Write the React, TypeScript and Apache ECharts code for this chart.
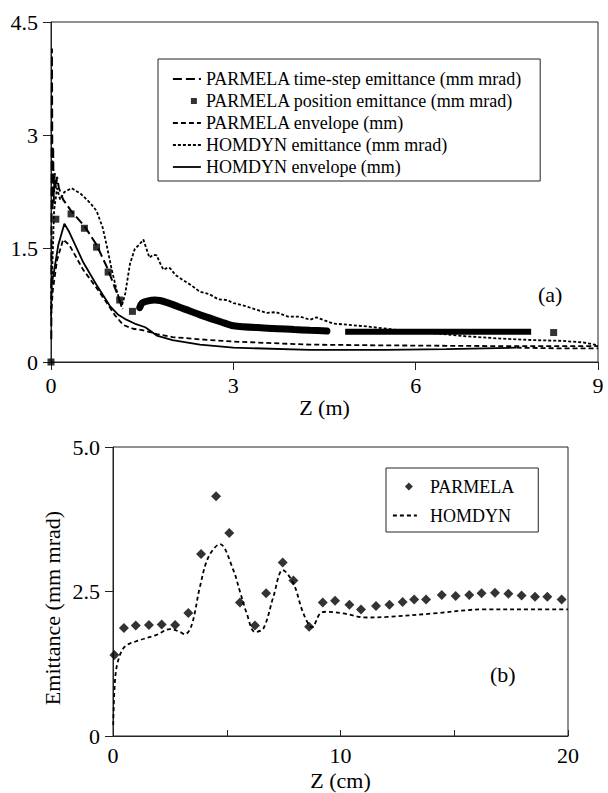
import React, { useEffect, useRef } from 'react';
import * as echarts from 'echarts';

// ---------- Top chart (a) data: Z (m) vs value ----------
const topYTickLabels = ['0', '1.5', '3', '4.5'];
const topXTickLabels = ['0', '3', '6', '9'];

const parmelaTimeStep: [number, number][] = [
  [0.005, 0.3], [0.015, 4.15], [0.025, 2.0], [0.035, 2.85], [0.045, 2.1], [0.06, 2.5],
  [0.08, 2.3], [0.1, 2.45], [0.13, 2.3], [0.2, 2.15], [0.33, 2.0], [0.55, 1.8],
  [0.75, 1.55], [0.94, 1.22], [1.1, 0.88], [1.18, 0.7],
];

const parmelaPositionPts: [number, number][] = [
  [0, 0], [0.08, 1.89], [0.33, 1.96], [0.55, 1.77], [0.75, 1.52], [0.94, 1.19],
  [1.13, 0.82], [1.34, 0.67], [8.27, 0.39],
];
const parmelaPositionDense1: [number, number][] = [
  [1.46, 0.72], [1.5, 0.78], [1.6, 0.81], [1.71, 0.82], [1.9, 0.79], [2.2, 0.7],
  [2.5, 0.61], [2.8, 0.53], [3.0, 0.48], [3.5, 0.45], [4.0, 0.43], [4.26, 0.42], [4.54, 0.41],
];
const parmelaPositionDense2: [number, number][] = [
  [4.84, 0.4], [6.0, 0.4], [7.9, 0.4],
];

const parmelaEnvelope: [number, number][] = [
  [0, 0.6], [0.03, 0.95], [0.1, 1.35], [0.2, 1.62], [0.3, 1.55], [0.53, 1.22],
  [0.75, 0.98], [0.92, 0.78], [1.05, 0.62], [1.19, 0.49], [1.35, 0.44], [1.52, 0.42],
  [1.74, 0.37], [2.0, 0.33], [2.45, 0.3], [3.0, 0.27], [4.26, 0.23], [5.5, 0.22],
  [7.4, 0.21], [9, 0.21],
];
const parmelaEnvelopeTail: [number, number][] = [
  [7.66, 0.19], [8.4, 0.18], [9, 0.18],
];

const homdynEmittance: [number, number][] = [
  [0, 0.7], [0.02, 1.2], [0.05, 2.0], [0.1, 2.3], [0.15, 2.15], [0.22, 2.25], [0.34, 2.3],
  [0.5, 2.22], [0.65, 2.1], [0.75, 2.0], [0.85, 1.78], [0.92, 1.53], [1.0, 1.22],
  [1.08, 0.95], [1.16, 0.73], [1.22, 0.9], [1.3, 1.3], [1.38, 1.5], [1.45, 1.55],
  [1.52, 1.62], [1.57, 1.5], [1.62, 1.38], [1.68, 1.42], [1.74, 1.41], [1.8, 1.3],
  [1.85, 1.22], [1.92, 1.25], [1.96, 1.24], [2.05, 1.15], [2.18, 1.08], [2.3, 1.02],
  [2.45, 0.93], [2.6, 0.9], [2.75, 0.83], [2.9, 0.82], [3.0, 0.78], [3.2, 0.74],
  [3.35, 0.7], [3.55, 0.65], [3.7, 0.66], [3.9, 0.6], [4.1, 0.6], [4.26, 0.56],
  [4.37, 0.59], [4.5, 0.55], [4.64, 0.51], [5.2, 0.47], [5.74, 0.42], [6.3, 0.38],
  [6.84, 0.34], [7.4, 0.31], [7.93, 0.29], [8.4, 0.28], [8.75, 0.26], [9, 0.22],
];

const homdynEnvelope: [number, number][] = [
  [0, 0.98], [0.05, 1.2], [0.12, 1.55], [0.22, 1.83], [0.3, 1.72], [0.53, 1.32],
  [0.75, 1.02], [0.97, 0.74], [1.1, 0.63], [1.24, 0.56], [1.4, 0.5], [1.55, 0.46],
  [1.62, 0.42], [1.74, 0.35], [2.0, 0.29], [2.45, 0.23], [3.0, 0.19], [4.26, 0.16],
  [5.5, 0.16], [6.5, 0.17], [7.66, 0.19],
];

// ---------- Bottom chart (b) data: Z (cm) vs emittance ----------
const bottomYTickLabels = ['0', '2.5', '5.0'];
const bottomXTickLabels = ['0', '', '10', '', '20'];

const parmelaB: [number, number][] = [
  [0.06, 1.4], [0.48, 1.87], [1.0, 1.91], [1.58, 1.92], [2.14, 1.93], [2.73, 1.92],
  [3.31, 2.13], [3.87, 3.15], [4.53, 4.15], [5.11, 3.51], [5.58, 2.31], [6.24, 1.91],
  [6.73, 2.47], [7.46, 3.0], [7.93, 2.69], [8.62, 1.89], [9.22, 2.31], [9.76, 2.34],
  [10.39, 2.27], [10.9, 2.19], [11.56, 2.25], [12.15, 2.27], [12.73, 2.32], [13.24, 2.36],
  [13.76, 2.36], [14.45, 2.44], [15.06, 2.42], [15.66, 2.44], [16.2, 2.47], [16.79, 2.48],
  [17.38, 2.46], [17.96, 2.43], [18.55, 2.41], [19.09, 2.41], [19.72, 2.36],
];

const homdynB: [number, number][] = [
  [0.01, 0.19], [0.09, 0.97], [0.23, 1.31], [0.53, 1.55], [1.19, 1.66], [1.92, 1.75],
  [2.5, 1.85], [2.95, 1.8], [3.16, 1.76], [3.46, 1.92], [3.82, 2.58], [4.2, 3.1],
  [4.7, 3.32], [5.29, 2.87], [5.58, 2.5], [5.88, 2.12], [6.24, 1.8], [6.61, 1.86],
  [7.05, 2.41], [7.46, 2.87], [7.93, 2.64], [8.37, 2.12], [8.75, 1.88], [9.1, 2.12],
  [9.39, 2.15], [10.12, 2.12], [11.15, 2.05], [12.03, 2.06], [14.08, 2.12],
  [16.28, 2.19], [18.48, 2.19], [20, 2.19],
];

const FONT = '"Liberation Serif", "Times New Roman", serif';
const AXIS_COLOR = '#222';

const nameTS = 'PARMELA time-step emittance (mm mrad)';
const namePos = 'PARMELA position emittance (mm mrad)';
const nameEnv = 'PARMELA envelope (mm)';
const nameHE = 'HOMDYN emittance (mm mrad)';
const nameHEnv = 'HOMDYN envelope (mm)';

export default function App() {
  const ref = useRef<HTMLDivElement>(null);
  useEffect(() => {
    if (!ref.current) return;
    const chart = echarts.init(ref.current, undefined, { renderer: 'svg' });
    const hiddenSym = { color: 'rgba(0,0,0,0)', borderWidth: 0, opacity: 0 };
    const option: any = {
      animation: false,
      backgroundColor: '#fff',
      textStyle: { fontFamily: FONT, color: '#000' },
      grid: [
        { left: 51, top: 22, width: 547, height: 340, show: true, borderColor: AXIS_COLOR, borderWidth: 1 },
        { left: 113, top: 447, width: 455, height: 289, show: true, borderColor: AXIS_COLOR, borderWidth: 1 },
      ],
      xAxis: [
        {
          gridIndex: 0, type: 'value', min: 0, max: 9, interval: 3,
          name: 'Z (m)', nameLocation: 'middle', nameGap: 27,
          nameTextStyle: { fontFamily: FONT, fontSize: 22, color: '#000' },
          axisLine: { onZero: false, lineStyle: { color: AXIS_COLOR, width: 1 } },
          axisTick: { inside: false, length: 8, lineStyle: { color: AXIS_COLOR } },
          axisLabel: {
            margin: 12, fontFamily: FONT, fontSize: 22, color: '#000',
            formatter: (v: number) => topXTickLabels[Math.round(v / 3)] ?? '',
          },
          splitLine: { show: false },
        },
        {
          gridIndex: 1, type: 'value', min: 0, max: 20, interval: 5,
          name: 'Z (cm)', nameLocation: 'middle', nameGap: 33,
          nameTextStyle: { fontFamily: FONT, fontSize: 22, color: '#000' },
          axisLine: { onZero: false, lineStyle: { color: AXIS_COLOR, width: 1 } },
          axisTick: { inside: true, length: 6, lineStyle: { color: AXIS_COLOR } },
          axisLabel: {
            margin: 8, fontFamily: FONT, fontSize: 22, color: '#000',
            formatter: (v: number) => bottomXTickLabels[Math.round(v / 5)] ?? '',
          },
          splitLine: { show: false },
        },
      ],
      yAxis: [
        {
          gridIndex: 0, type: 'value', min: 0, max: 4.5, interval: 1.5,
          axisLine: { onZero: false, lineStyle: { color: AXIS_COLOR, width: 1 } },
          axisTick: { inside: false, length: 8, lineStyle: { color: AXIS_COLOR } },
          axisLabel: {
            margin: 13, fontFamily: FONT, fontSize: 22, color: '#000',
            formatter: (v: number) => topYTickLabels[Math.round(v / 1.5)] ?? '',
          },
          splitLine: { show: false },
        },
        {
          gridIndex: 1, type: 'value', min: 0, max: 5, interval: 2.5,
          axisLine: { onZero: false, lineStyle: { color: AXIS_COLOR, width: 1 } },
          axisTick: { inside: false, length: 8, lineStyle: { color: AXIS_COLOR } },
          axisLabel: {
            margin: 13, fontFamily: FONT, fontSize: 22, color: '#000',
            formatter: (v: number) => bottomYTickLabels[Math.round(v / 2.5)] ?? '',
          },
          splitLine: { show: false },
        },
      ],
      legend: [
        {
          orient: 'vertical', left: 158, top: 59, padding: [9, 18, 3, 14],
          itemGap: 0, itemWidth: 28, itemHeight: 14,
          borderColor: AXIS_COLOR, borderWidth: 1, backgroundColor: '#fff',
          selectedMode: false,
          textStyle: { fontFamily: FONT, fontSize: 18, color: '#000', lineHeight: 22 },
          lineStyle: { width: 1.8 },
          data: [
            { name: nameTS, itemStyle: hiddenSym },
            { name: namePos, icon: 'path://M0,0M28,14M18,4h6v6h-6z' },
            { name: nameEnv, itemStyle: hiddenSym },
            { name: nameHE, itemStyle: hiddenSym },
            { name: nameHEnv, itemStyle: hiddenSym },
          ],
        },
        {
          orient: 'vertical', left: 386, top: 468, padding: [4, 24, 2, 6],
          itemGap: 0, itemWidth: 24, itemHeight: 14,
          borderColor: AXIS_COLOR, borderWidth: 1, backgroundColor: '#fff',
          selectedMode: false,
          textStyle: { fontFamily: FONT, fontSize: 18, color: '#000', lineHeight: 29, padding: [0, 0, 0, 8] },
          lineStyle: { width: 1.8 },
          data: [
            { name: 'PARMELA', icon: 'path://M0,0M24,14M16,3L20,7L16,11L12,7Z' },
            { name: 'HOMDYN', itemStyle: hiddenSym },
          ],
        },
      ],
      graphic: [
        { type: 'text', left: 538, top: 283, style: { text: '(a)', font: `22px ${FONT}`, fill: '#000' } },
        { type: 'text', left: 490, top: 663, style: { text: '(b)', font: `22px ${FONT}`, fill: '#000' } },
        {
          type: 'text', x: 52, y: 608, rotation: Math.PI / 2,
          style: {
            text: 'Emittance (mm mrad)', font: `22px ${FONT}`, fill: '#000',
            align: 'center', verticalAlign: 'middle',
          },
        },
      ],
      series: [
        {
          name: nameEnv, type: 'line', xAxisIndex: 0, yAxisIndex: 0, symbol: 'none',
          lineStyle: { color: '#000', width: 1.8, type: [5, 3] }, data: parmelaEnvelope,
        },
        {
          name: nameEnv, type: 'line', xAxisIndex: 0, yAxisIndex: 0, symbol: 'none',
          lineStyle: { color: '#000', width: 1.8, type: [5, 3] }, data: parmelaEnvelopeTail,
        },
        {
          name: nameHEnv, type: 'line', xAxisIndex: 0, yAxisIndex: 0, symbol: 'none',
          lineStyle: { color: '#000', width: 1.8, type: 'solid' }, data: homdynEnvelope,
        },
        {
          name: nameHE, type: 'line', xAxisIndex: 0, yAxisIndex: 0, symbol: 'none',
          lineStyle: { color: '#000', width: 1.8, type: [3, 2] }, data: homdynEmittance,
        },
        {
          name: nameTS, type: 'line', xAxisIndex: 0, yAxisIndex: 0, symbol: 'none',
          lineStyle: { color: '#000', width: 2, type: [9, 4] }, data: parmelaTimeStep,
        },
        {
          name: namePos, type: 'scatter', xAxisIndex: 0, yAxisIndex: 0, symbol: 'rect',
          symbolSize: 7, itemStyle: { color: '#000' }, data: parmelaPositionPts,
        },
        {
          name: namePos, type: 'line', xAxisIndex: 0, yAxisIndex: 0, symbol: 'none', smooth: 0.3,
          lineStyle: { color: '#000', width: 7, cap: 'round' }, data: parmelaPositionDense1,
        },
        {
          name: namePos, type: 'line', xAxisIndex: 0, yAxisIndex: 0, symbol: 'none',
          lineStyle: { color: '#000', width: 6, cap: 'butt' }, data: parmelaPositionDense2,
        },
        {
          name: 'HOMDYN', type: 'line', xAxisIndex: 1, yAxisIndex: 1, symbol: 'none', smooth: 0.35,
          lineStyle: { color: '#000', width: 1.8, type: [4, 3] }, data: homdynB,
        },
        {
          name: 'PARMELA', type: 'scatter', xAxisIndex: 1, yAxisIndex: 1, symbol: 'diamond',
          symbolSize: 10, itemStyle: { color: '#000' }, data: parmelaB,
        },
      ],
    };
    chart.setOption(option);
    return () => chart.dispose();
  }, []);
  return (
    <div
      ref={ref}
      style={{ position: 'absolute', left: 0, top: 0, width: 608, height: 793 }}
    />
  );
}
